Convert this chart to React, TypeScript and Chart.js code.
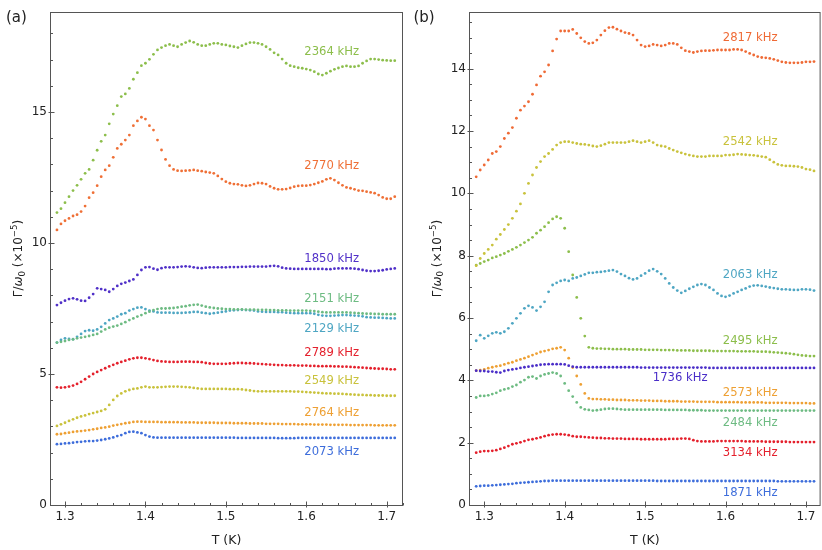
import React, { useEffect, useRef } from 'react';
import { Chart, registerables } from 'chart.js';

Chart.register(...registerables);

// Temperature grid (K)
const T = [
  1.29, 1.295, 1.3, 1.305, 1.31, 1.315, 1.32, 1.325, 1.33, 1.335,
  1.34, 1.345, 1.35, 1.355, 1.36, 1.365, 1.37, 1.375, 1.38, 1.385,
  1.39, 1.395, 1.4, 1.405, 1.41, 1.415, 1.42, 1.425, 1.43, 1.435,
  1.44, 1.445, 1.45, 1.455, 1.46, 1.465, 1.47, 1.475, 1.48, 1.485,
  1.49, 1.495, 1.5, 1.505, 1.51, 1.515, 1.52, 1.525, 1.53, 1.535,
  1.54, 1.545, 1.55, 1.555, 1.56, 1.565, 1.57, 1.575, 1.58, 1.585,
  1.59, 1.595, 1.6, 1.605, 1.61, 1.615, 1.62, 1.625, 1.63, 1.635,
  1.64, 1.645, 1.65, 1.655, 1.66, 1.665, 1.67, 1.675, 1.68, 1.685,
  1.69, 1.695, 1.7, 1.705, 1.71,
];

const X_TICKS = [1.3, 1.4, 1.5, 1.6, 1.7];
const A_Y_TICKS = [0, 5, 10, 15];
const B_Y_TICKS = [0, 2, 4, 6, 8, 10, 12, 14];

// ---------- Panel (a) ----------
const A_2364 = [
  11.16, 11.31, 11.54, 11.77, 12.0, 12.2, 12.43, 12.66, 12.81, 13.16,
  13.54, 13.88, 14.12, 14.55, 14.92, 15.24, 15.59, 15.69, 15.9, 16.25,
  16.5, 16.77, 16.86, 17.01, 17.2, 17.37, 17.46, 17.53, 17.58, 17.53,
  17.49, 17.58, 17.65, 17.71, 17.66, 17.58, 17.53, 17.53, 17.58, 17.62,
  17.62, 17.58, 17.56, 17.52, 17.49, 17.46, 17.53, 17.6, 17.65, 17.65,
  17.62, 17.58, 17.49, 17.39, 17.26, 17.18, 17.02, 16.86, 16.77, 16.73,
  16.69, 16.67, 16.64, 16.6, 16.54, 16.45, 16.41, 16.48, 16.56, 16.63,
  16.68, 16.73, 16.76, 16.73, 16.73, 16.76, 16.86, 16.95, 17.02, 17.02,
  17.0, 16.98, 16.97, 16.96, 16.96,
];
const A_2770 = [
  10.5, 10.73, 10.85, 10.94, 11.03, 11.08, 11.2, 11.41, 11.73, 11.92,
  12.19, 12.53, 12.79, 12.95, 13.27, 13.61, 13.77, 13.93, 14.12, 14.48,
  14.66, 14.8, 14.73, 14.48, 14.31, 13.93, 13.55, 13.19, 12.95, 12.81,
  12.76, 12.75, 12.76, 12.77, 12.79, 12.76, 12.74, 12.71, 12.69, 12.66,
  12.56, 12.44, 12.34, 12.28, 12.25, 12.24, 12.2, 12.18, 12.2, 12.25,
  12.29, 12.28, 12.25, 12.16, 12.09, 12.05, 12.05, 12.06, 12.1, 12.15,
  12.18, 12.19, 12.19, 12.21, 12.25, 12.3, 12.35, 12.43, 12.47, 12.4,
  12.3, 12.2, 12.12, 12.09, 12.05, 12.0, 11.99, 11.96, 11.93, 11.9,
  11.83, 11.74, 11.69, 11.69, 11.77,
];
const A_1850 = [
  7.63, 7.72, 7.8, 7.86, 7.89, 7.85, 7.8, 7.79, 7.91, 8.05,
  8.27, 8.24, 8.21, 8.14, 8.24, 8.36, 8.44, 8.49, 8.55, 8.61,
  8.78, 8.97, 9.07, 9.08, 9.02, 8.98, 9.04, 9.07, 9.07, 9.07,
  9.08, 9.1, 9.11, 9.1, 9.07, 9.05, 9.04, 9.06, 9.07, 9.07,
  9.07, 9.07, 9.07, 9.08, 9.08, 9.08, 9.09, 9.09, 9.1, 9.1,
  9.1, 9.1, 9.1, 9.12, 9.13, 9.11, 9.06, 9.03, 9.02, 9.01,
  9.01, 9.01, 9.01, 9.01, 9.01, 9.01, 9.01, 9.0, 9.0, 9.02,
  9.03, 9.03, 9.03, 9.03, 9.02, 9.0, 8.97, 8.94, 8.93, 8.93,
  8.94, 8.96, 8.99, 9.01, 9.03,
];
const A_2151 = [
  6.2, 6.23, 6.26, 6.3, 6.32, 6.36, 6.39, 6.42, 6.45, 6.49,
  6.53, 6.62, 6.7, 6.77, 6.81, 6.85, 6.91, 6.98, 7.06, 7.12,
  7.19, 7.25, 7.32, 7.38, 7.44, 7.48, 7.5, 7.5, 7.51, 7.52,
  7.54, 7.57, 7.59, 7.62, 7.64, 7.65, 7.61, 7.57, 7.54, 7.52,
  7.5, 7.49, 7.48, 7.48, 7.47, 7.47, 7.47, 7.46, 7.46, 7.46,
  7.45, 7.45, 7.45, 7.44, 7.44, 7.43, 7.43, 7.43, 7.42, 7.42,
  7.42, 7.42, 7.42, 7.41, 7.4, 7.38, 7.36, 7.35, 7.35, 7.35,
  7.35, 7.35, 7.35, 7.34, 7.33, 7.32, 7.31, 7.3, 7.3, 7.29,
  7.29, 7.28, 7.28, 7.28, 7.28,
];
const A_2129 = [
  6.2, 6.3, 6.36, 6.34, 6.33, 6.42, 6.53, 6.64, 6.67, 6.65,
  6.7, 6.8, 6.93, 7.06, 7.12, 7.19, 7.28, 7.32, 7.42, 7.48,
  7.53, 7.54, 7.48, 7.42, 7.39, 7.35, 7.34, 7.34, 7.34, 7.33,
  7.33, 7.33, 7.34, 7.35, 7.37, 7.37, 7.34, 7.32, 7.3, 7.32,
  7.34, 7.37, 7.39, 7.42, 7.43, 7.44, 7.45, 7.44, 7.43, 7.42,
  7.39, 7.38, 7.37, 7.37, 7.37, 7.36, 7.36, 7.34, 7.33, 7.32,
  7.32, 7.32, 7.32, 7.32, 7.3, 7.26, 7.23, 7.22, 7.22, 7.23,
  7.24, 7.25, 7.25, 7.24, 7.23, 7.22, 7.2, 7.17, 7.16, 7.15,
  7.15, 7.14, 7.13, 7.12, 7.12,
];
const A_2789 = [
  4.49, 4.48, 4.49, 4.52, 4.56, 4.62, 4.7, 4.8, 4.9, 5.0,
  5.08, 5.15, 5.22, 5.29, 5.35, 5.41, 5.46, 5.51, 5.56, 5.6,
  5.62, 5.62, 5.6, 5.57, 5.53, 5.5, 5.48, 5.47, 5.46, 5.46,
  5.46, 5.47, 5.47, 5.47, 5.46, 5.46, 5.45, 5.42, 5.4, 5.39,
  5.39, 5.39, 5.39, 5.4, 5.41, 5.42, 5.42, 5.41, 5.41, 5.4,
  5.39, 5.38, 5.37, 5.36, 5.35, 5.34, 5.34, 5.33, 5.33, 5.33,
  5.32, 5.32, 5.32, 5.31, 5.31, 5.3, 5.3, 5.3, 5.3, 5.29,
  5.29, 5.28, 5.28, 5.27, 5.26, 5.25, 5.24, 5.23, 5.22, 5.21,
  5.2, 5.2, 5.19, 5.18, 5.18,
];
const A_2549 = [
  3.02, 3.08, 3.14, 3.21, 3.27, 3.33, 3.38, 3.42, 3.47, 3.51,
  3.55, 3.59, 3.65, 3.82, 4.01, 4.16, 4.26, 4.34, 4.39, 4.43,
  4.45, 4.49, 4.52, 4.49, 4.49, 4.49, 4.5, 4.51, 4.52, 4.52,
  4.52, 4.51, 4.5, 4.49, 4.47, 4.45, 4.43, 4.43, 4.43, 4.43,
  4.43, 4.43, 4.43, 4.42, 4.42, 4.42, 4.41, 4.39, 4.37, 4.35,
  4.34, 4.34, 4.34, 4.34, 4.34, 4.34, 4.34, 4.34, 4.34, 4.33,
  4.33, 4.32, 4.31, 4.3, 4.29, 4.28, 4.27, 4.26, 4.26, 4.25,
  4.25, 4.24, 4.23, 4.22, 4.21, 4.2, 4.2, 4.19, 4.19, 4.18,
  4.18, 4.18, 4.17, 4.17, 4.17,
];
const A_2764 = [
  2.7, 2.71, 2.74, 2.76, 2.79, 2.81, 2.82, 2.84, 2.86, 2.89,
  2.91, 2.94, 2.96, 2.99, 3.03, 3.06, 3.09, 3.12, 3.14, 3.17,
  3.18, 3.18, 3.17, 3.17, 3.17, 3.17, 3.16, 3.16, 3.16, 3.16,
  3.16, 3.15, 3.15, 3.15, 3.15, 3.14, 3.14, 3.14, 3.14, 3.14,
  3.13, 3.13, 3.13, 3.13, 3.12, 3.12, 3.12, 3.12, 3.11, 3.11,
  3.11, 3.11, 3.1, 3.1, 3.1, 3.1, 3.09, 3.09, 3.09, 3.09,
  3.08, 3.08, 3.08, 3.08, 3.07, 3.07, 3.07, 3.07, 3.06, 3.06,
  3.06, 3.06, 3.06, 3.05, 3.05, 3.05, 3.05, 3.05, 3.05, 3.04,
  3.04, 3.04, 3.04, 3.04, 3.04,
];
const A_2073 = [
  2.32, 2.33, 2.35, 2.36, 2.38, 2.4, 2.41, 2.43, 2.44, 2.44,
  2.46, 2.48, 2.51, 2.54, 2.58, 2.63, 2.67, 2.74, 2.79, 2.8,
  2.77, 2.74, 2.67, 2.61, 2.58, 2.57, 2.57, 2.57, 2.57, 2.57,
  2.57, 2.57, 2.57, 2.57, 2.57, 2.57, 2.57, 2.57, 2.57, 2.57,
  2.57, 2.57, 2.57, 2.57, 2.57, 2.56, 2.56, 2.56, 2.56, 2.56,
  2.56, 2.56, 2.56, 2.56, 2.56, 2.55, 2.55, 2.55, 2.55, 2.55,
  2.56, 2.56, 2.56, 2.56, 2.56, 2.56, 2.56, 2.56, 2.56, 2.56,
  2.56, 2.56, 2.56, 2.56, 2.56, 2.56, 2.56, 2.56, 2.56, 2.56,
  2.56, 2.56, 2.56, 2.56, 2.56,
];

// ---------- Panel (b) ----------
const B_2817 = [
  10.53, 10.75, 10.91, 11.07, 11.28, 11.34, 11.5, 11.76, 11.93, 12.11,
  12.41, 12.67, 12.8, 12.94, 13.18, 13.48, 13.76, 13.9, 14.12, 14.57,
  14.95, 15.21, 15.21, 15.21, 15.26, 15.13, 14.99, 14.87, 14.81, 14.83,
  14.92, 15.08, 15.22, 15.32, 15.33, 15.27, 15.21, 15.16, 15.13, 15.08,
  14.92, 14.76, 14.71, 14.73, 14.78, 14.76, 14.73, 14.76, 14.81, 14.81,
  14.78, 14.67, 14.58, 14.55, 14.52, 14.55, 14.57, 14.58, 14.58, 14.59,
  14.6, 14.6, 14.6, 14.6, 14.62, 14.62, 14.6, 14.55, 14.49, 14.44,
  14.39, 14.36, 14.35, 14.33, 14.3, 14.26, 14.22, 14.2, 14.19, 14.19,
  14.19, 14.2, 14.22, 14.22, 14.23,
];
const B_2542 = [
  7.68, 7.91, 8.07, 8.2, 8.34, 8.53, 8.68, 8.84, 9.0, 9.2,
  9.43, 9.66, 10.0, 10.32, 10.59, 10.83, 11.02, 11.18, 11.28, 11.41,
  11.55, 11.63, 11.66, 11.66, 11.63, 11.6, 11.58, 11.57, 11.55, 11.52,
  11.5, 11.53, 11.58, 11.63, 11.63, 11.63, 11.63, 11.63, 11.66, 11.69,
  11.66, 11.63, 11.66, 11.69, 11.63, 11.55, 11.52, 11.5, 11.44, 11.39,
  11.34, 11.3, 11.26, 11.23, 11.2, 11.18, 11.18, 11.18, 11.2, 11.2,
  11.2, 11.2, 11.23, 11.23, 11.24, 11.26, 11.25, 11.24, 11.23, 11.22,
  11.2, 11.18, 11.16, 11.08, 11.0, 10.93, 10.9, 10.88, 10.88, 10.87,
  10.86, 10.83, 10.78, 10.76, 10.72,
];
const B_2063 = [
  5.27, 5.45, 5.35, 5.43, 5.51, 5.54, 5.51, 5.56, 5.67, 5.83,
  5.99, 6.15, 6.31, 6.39, 6.34, 6.24, 6.36, 6.52, 6.84, 7.06,
  7.13, 7.19, 7.22, 7.19, 7.27, 7.3, 7.35, 7.4, 7.45, 7.45,
  7.47, 7.48, 7.5, 7.52, 7.54, 7.49, 7.41, 7.35, 7.28, 7.24,
  7.27, 7.36, 7.43, 7.52, 7.57, 7.5, 7.41, 7.27, 7.11, 6.98,
  6.88, 6.81, 6.87, 6.94, 7.0, 7.06, 7.09, 7.06, 6.98, 6.9,
  6.79, 6.71, 6.68, 6.72, 6.79, 6.84, 6.9, 6.95, 7.01, 7.04,
  7.05, 7.03, 7.01, 6.98, 6.96, 6.94, 6.92, 6.92, 6.91, 6.9,
  6.9, 6.92, 6.92, 6.91, 6.88,
];
const B_2495 = [
  7.7, 7.75, 7.81, 7.86, 7.93, 7.97, 8.02, 8.07, 8.14, 8.2,
  8.27, 8.34, 8.42, 8.5, 8.59, 8.72, 8.82, 8.93, 9.06, 9.18,
  9.25, 9.2, 8.88, 8.13, 7.38, 6.66, 5.99, 5.42, 5.06, 5.03,
  5.02, 5.02, 5.01, 5.01, 5.0, 5.0, 5.0, 5.0, 4.99, 4.99,
  4.99, 4.99, 4.98, 4.98, 4.98, 4.98, 4.97, 4.97, 4.97, 4.97,
  4.96, 4.96, 4.96, 4.96, 4.95, 4.95, 4.95, 4.95, 4.95, 4.94,
  4.94, 4.94, 4.94, 4.94, 4.94, 4.93, 4.93, 4.93, 4.93, 4.93,
  4.92, 4.92, 4.92, 4.91, 4.9, 4.89, 4.88, 4.87, 4.86, 4.84,
  4.82, 4.8, 4.79, 4.78, 4.78,
];
const B_1736 = [
  4.31, 4.3, 4.3, 4.28, 4.28, 4.26, 4.25, 4.3, 4.33, 4.35,
  4.37, 4.4, 4.42, 4.44, 4.46, 4.48, 4.5, 4.51, 4.52, 4.52,
  4.52, 4.52, 4.51, 4.47, 4.44, 4.42, 4.42, 4.42, 4.42, 4.42,
  4.42, 4.42, 4.42, 4.42, 4.42, 4.42, 4.42, 4.42, 4.42, 4.42,
  4.42, 4.41, 4.41, 4.41, 4.41, 4.41, 4.41, 4.41, 4.41, 4.41,
  4.41, 4.41, 4.41, 4.41, 4.41, 4.41, 4.41, 4.41, 4.4, 4.4,
  4.4, 4.4, 4.4, 4.4, 4.4, 4.4, 4.4, 4.4, 4.4, 4.4,
  4.4, 4.4, 4.4, 4.4, 4.4, 4.4, 4.4, 4.4, 4.4, 4.4,
  4.4, 4.4, 4.4, 4.4, 4.4,
];
const B_2573 = [
  4.31, 4.33, 4.35, 4.39, 4.42, 4.45, 4.47, 4.51, 4.55, 4.58,
  4.63, 4.67, 4.71, 4.76, 4.81, 4.86, 4.91, 4.94, 4.97, 5.01,
  5.03, 5.06, 4.97, 4.71, 4.41, 4.14, 3.87, 3.58, 3.42, 3.4,
  3.4, 3.39, 3.39, 3.38, 3.38, 3.37, 3.37, 3.37, 3.36, 3.36,
  3.36, 3.35, 3.35, 3.35, 3.34, 3.34, 3.34, 3.33, 3.33, 3.33,
  3.33, 3.32, 3.32, 3.32, 3.32, 3.31, 3.31, 3.31, 3.31, 3.31,
  3.3, 3.3, 3.3, 3.3, 3.3, 3.3, 3.29, 3.29, 3.29, 3.29,
  3.29, 3.29, 3.28, 3.28, 3.28, 3.28, 3.28, 3.28, 3.27, 3.27,
  3.27, 3.27, 3.27, 3.26, 3.26,
];
const B_2484 = [
  3.45, 3.5, 3.5, 3.52, 3.56, 3.6, 3.67, 3.71, 3.74, 3.8,
  3.85, 3.94, 4.01, 4.1, 4.12, 4.06, 4.14, 4.19, 4.22, 4.25,
  4.22, 4.14, 3.9, 3.67, 3.48, 3.29, 3.13, 3.07, 3.05, 3.03,
  3.04, 3.06, 3.08, 3.09, 3.09, 3.08, 3.07, 3.06, 3.06, 3.06,
  3.06, 3.06, 3.06, 3.06, 3.06, 3.06, 3.06, 3.05, 3.05, 3.05,
  3.05, 3.05, 3.05, 3.04, 3.04, 3.04, 3.04, 3.03, 3.03, 3.03,
  3.03, 3.03, 3.03, 3.03, 3.03, 3.03, 3.03, 3.03, 3.03, 3.03,
  3.03, 3.03, 3.03, 3.03, 3.03, 3.03, 3.03, 3.03, 3.03, 3.03,
  3.03, 3.03, 3.03, 3.03, 3.03,
];
const B_3134 = [
  1.68, 1.71, 1.73, 1.73, 1.74, 1.76, 1.8, 1.84, 1.89, 1.95,
  1.98, 2.01, 2.05, 2.09, 2.11, 2.14, 2.17, 2.21, 2.24, 2.26,
  2.27, 2.27, 2.26, 2.24, 2.21, 2.19, 2.19, 2.18, 2.17, 2.16,
  2.15, 2.15, 2.14, 2.14, 2.13, 2.13, 2.13, 2.12, 2.12, 2.12,
  2.12, 2.11, 2.11, 2.11, 2.11, 2.11, 2.11, 2.11, 2.12, 2.12,
  2.12, 2.13, 2.13, 2.12, 2.08, 2.05, 2.04, 2.04, 2.04, 2.04,
  2.05, 2.05, 2.05, 2.05, 2.05, 2.05, 2.05, 2.04, 2.04, 2.04,
  2.04, 2.04, 2.03, 2.03, 2.03, 2.03, 2.03, 2.03, 2.02, 2.02,
  2.02, 2.02, 2.02, 2.02, 2.02,
];
const B_1871 = [
  0.6, 0.61, 0.62, 0.62, 0.63, 0.64, 0.65, 0.66, 0.67, 0.68,
  0.7, 0.71, 0.72, 0.73, 0.74, 0.75, 0.76, 0.77, 0.77, 0.78,
  0.78, 0.78, 0.78, 0.78, 0.78, 0.78, 0.78, 0.78, 0.78, 0.78,
  0.78, 0.78, 0.78, 0.78, 0.78, 0.78, 0.78, 0.78, 0.78, 0.78,
  0.78, 0.78, 0.78, 0.78, 0.78, 0.77, 0.77, 0.77, 0.77, 0.77,
  0.77, 0.77, 0.77, 0.77, 0.77, 0.77, 0.77, 0.77, 0.77, 0.77,
  0.77, 0.77, 0.77, 0.77, 0.77, 0.77, 0.77, 0.77, 0.77, 0.77,
  0.77, 0.77, 0.77, 0.77, 0.77, 0.76, 0.76, 0.76, 0.76, 0.76,
  0.76, 0.76, 0.76, 0.76, 0.76,
];

type Series = { name: string; values: number[]; color: string; lx: number; ly: number };

const SERIES_A: Series[] = [
  { name: '2364 kHz', values: A_2364, color: '#8cbe4b', lx: 1.6316, ly: 17.29 },
  { name: '2770 kHz', values: A_2770, color: '#ef6f35', lx: 1.6316, ly: 12.95 },
  { name: '1850 kHz', values: A_1850, color: '#5030c8', lx: 1.6316, ly: 9.38 },
  { name: '2151 kHz', values: A_2151, color: '#6dbb82', lx: 1.6316, ly: 7.86 },
  { name: '2129 kHz', values: A_2129, color: '#4ea6c3', lx: 1.6316, ly: 6.7 },
  { name: '2789 kHz', values: A_2789, color: '#e4202c', lx: 1.6316, ly: 5.79 },
  { name: '2549 kHz', values: A_2549, color: '#c9c23c', lx: 1.6316, ly: 4.75 },
  { name: '2764 kHz', values: A_2764, color: '#eea033', lx: 1.6316, ly: 3.52 },
  { name: '2073 kHz', values: A_2073, color: '#3d6ddb', lx: 1.6316, ly: 2.01 },
];

const SERIES_B: Series[] = [
  { name: '2817 kHz', values: B_2817, color: '#ef6a35', lx: 1.6307, ly: 15.0 },
  { name: '2542 kHz', values: B_2542, color: '#c9c23c', lx: 1.6307, ly: 11.66 },
  { name: '2063 kHz', values: B_2063, color: '#4ea6c3', lx: 1.6307, ly: 7.38 },
  { name: '2495 kHz', values: B_2495, color: '#8cbe4b', lx: 1.6307, ly: 5.26 },
  { name: '1736 kHz', values: B_1736, color: '#4a2ec8', lx: 1.5436, ly: 4.07 },
  { name: '2573 kHz', values: B_2573, color: '#eea033', lx: 1.6307, ly: 3.58 },
  { name: '2484 kHz', values: B_2484, color: '#6dbb82', lx: 1.6307, ly: 2.64 },
  { name: '3134 kHz', values: B_3134, color: '#e4202c', lx: 1.6307, ly: 1.68 },
  { name: '1871 kHz', values: B_1871, color: '#3d6ddb', lx: 1.6307, ly: 0.37 },
];

const FONT = "'DejaVu Sans', Verdana, sans-serif";
const FRAME = '#555';
const TEXT = '#222';

type PanelCfg = {
  series: Series[];
  tag: string;
  tagX: number;
  xMin: number;
  xMax: number;
  yMax: number;
  yTicks: number[];
  yMinor: number;
  axisLeft: number;
  padRight: number;
  titleX: number;
};

const PANEL_A: PanelCfg = {
  series: SERIES_A, tag: '(a)', tagX: 6, xMin: 1.28135, xMax: 1.72027,
  yMax: 18.817, yTicks: A_Y_TICKS, yMinor: 1, axisLeft: 50, padRight: 7, titleX: 18,
};
const PANEL_B: PanelCfg = {
  series: SERIES_B, tag: '(b)', tagX: 3.5, xMin: 1.28105, xMax: 1.7182,
  yMax: 15.82, yTicks: B_Y_TICKS, yMinor: 0.5, axisLeft: 59, padRight: 0, titleX: 26.5,
};

function drawYTitle(ctx: CanvasRenderingContext2D, cx: number, cy: number) {
  const fs = 12;
  const sm = fs * 0.72;
  const parts = [
    { t: 'Γ/', f: `${fs}px ${FONT}`, dy: 0 },
    { t: 'ω', f: `italic ${fs}px ${FONT}`, dy: 0 },
    { t: '0', f: `${sm}px ${FONT}`, dy: fs * 0.22 },
    { t: ' (×10', f: `${fs}px ${FONT}`, dy: 0 },
    { t: '−5', f: `${sm}px ${FONT}`, dy: -fs * 0.42 },
    { t: ')', f: `${fs}px ${FONT}`, dy: 0 },
  ];
  ctx.save();
  ctx.translate(cx, cy);
  ctx.rotate(-Math.PI / 2);
  ctx.fillStyle = TEXT;
  ctx.textBaseline = 'alphabetic';
  ctx.textAlign = 'left';
  let total = 0;
  const widths = parts.map((p) => {
    ctx.font = p.f;
    const w = ctx.measureText(p.t).width;
    total += w;
    return w;
  });
  let x = -total / 2;
  const base = fs * 0.36;
  parts.forEach((p, i) => {
    ctx.font = p.f;
    ctx.fillText(p.t, x, base + p.dy);
    x += widths[i];
  });
  ctx.restore();
}

function buildChart(canvas: HTMLCanvasElement, p: PanelCfg) {
  const datasets = p.series.map((s) => ({
    label: s.name,
    data: T.map((t, i) => ({ x: t, y: s.values[i] })),
    showLine: false,
    pointRadius: 1.4,
    pointHoverRadius: 1.4,
    pointBorderWidth: 0,
    pointBackgroundColor: s.color,
    borderColor: s.color,
    backgroundColor: s.color,
  }));

  const decor = {
    id: 'decor',
    afterDraw(chart: any) {
      const ctx: CanvasRenderingContext2D = chart.ctx;
      const a = chart.chartArea;
      const xs = chart.scales.x;
      const ys = chart.scales.y;
      ctx.save();
      // frame
      ctx.strokeStyle = FRAME;
      ctx.lineWidth = 1;
      ctx.strokeRect(a.left + 0.5, a.top + 0.5, a.right - a.left - 1, a.bottom - a.top);
      // tick marks
      ctx.beginPath();
      const x0 = a.left + 0.5;
      const y0 = a.bottom + 0.5;
      const isMajor = (arr: number[], v: number) => arr.some((t) => Math.abs(t - v) < 1e-6);
      p.yTicks.forEach((v) => {
        if (v === 0) return;
        const py = Math.round(ys.getPixelForValue(v)) + 0.5;
        ctx.moveTo(x0 - 2, py);
        ctx.lineTo(x0 + 4, py);
      });
      for (let k = 1; k * p.yMinor < p.yMax; k++) {
        const v = k * p.yMinor;
        if (isMajor(p.yTicks, v)) continue;
        const py = Math.round(ys.getPixelForValue(v)) + 0.5;
        ctx.moveTo(x0, py);
        ctx.lineTo(x0 + 2.5, py);
      }
      X_TICKS.forEach((v) => {
        const px = Math.round(xs.getPixelForValue(v)) + 0.5;
        ctx.moveTo(px, y0 + 2);
        ctx.lineTo(px, y0 - 4);
      });
      for (let k = Math.ceil(p.xMin / 0.02 - 1e-9); k * 0.02 <= p.xMax; k++) {
        const v = k * 0.02;
        if (isMajor(X_TICKS, v)) continue;
        const px = Math.round(xs.getPixelForValue(v)) + 0.5;
        ctx.moveTo(px, y0);
        ctx.lineTo(px, y0 - 2.5);
      }
      ctx.stroke();

      // series labels
      ctx.font = `11.6px ${FONT}`;
      ctx.textAlign = 'center';
      ctx.textBaseline = 'middle';
      p.series.forEach((s) => {
        ctx.fillStyle = s.color;
        ctx.fillText(s.name, xs.getPixelForValue(s.lx), ys.getPixelForValue(s.ly));
      });

      // panel tag
      ctx.fillStyle = TEXT;
      ctx.font = `15px ${FONT}`;
      ctx.textAlign = 'left';
      ctx.textBaseline = 'alphabetic';
      ctx.fillText(p.tag, p.tagX, 22);

      // x title
      ctx.font = `12.5px ${FONT}`;
      ctx.textAlign = 'center';
      ctx.textBaseline = 'middle';
      ctx.fillText('T (K)', (a.left + a.right) / 2, 540.5);
      ctx.restore();

      // y title
      drawYTitle(ctx, p.titleX, (a.top + a.bottom) / 2);
    },
  };

  return new Chart(canvas, {
    type: 'scatter',
    data: { datasets },
    options: {
      responsive: false,
      animation: false,
      events: [],
      layout: { padding: { top: 12, right: p.padRight, left: 0, bottom: 0 } },
      plugins: { legend: { display: false }, tooltip: { enabled: false } },
      scales: {
        x: {
          type: 'linear',
          min: p.xMin,
          max: p.xMax,
          grid: { display: false, drawTicks: false },
          border: { display: false },
          afterBuildTicks: (s: any) => {
            s.ticks = X_TICKS.map((v) => ({ value: v }));
          },
          afterFit: (s: any) => {
            s.height = 45;
          },
          ticks: {
            padding: 5,
            autoSkip: false,
            maxRotation: 0,
            color: TEXT,
            font: { family: FONT, size: 12 },
            callback: (v: any) => Number(v).toFixed(1),
          },
        },
        y: {
          type: 'linear',
          min: 0,
          max: p.yMax,
          grid: { display: false, drawTicks: false },
          border: { display: false },
          afterBuildTicks: (s: any) => {
            s.ticks = p.yTicks.map((v) => ({ value: v }));
          },
          afterFit: (s: any) => {
            s.width = p.axisLeft;
          },
          ticks: {
            padding: 3,
            autoSkip: false,
            color: TEXT,
            font: { family: FONT, size: 12 },
            callback: (v: any) => String(v),
          },
        },
      },
    },
    plugins: [decor],
  } as any);
}

function Panel({ cfg, left, width }: { cfg: PanelCfg; left: number; width: number }) {
  const ref = useRef<HTMLCanvasElement | null>(null);
  useEffect(() => {
    if (!ref.current) return;
    const chart = buildChart(ref.current, cfg);
    return () => chart.destroy();
  }, [cfg]);
  return (
    <canvas
      ref={ref}
      width={width}
      height={550}
      style={{ position: 'absolute', left, top: 0, width, height: 550 }}
    />
  );
}

export default function App() {
  return (
    <div
      style={{
        position: 'absolute',
        left: 0,
        top: 0,
        width: 822,
        height: 550,
        background: '#ffffff',
        overflow: 'hidden',
      }}
    >
      <Panel cfg={PANEL_A} left={0} width={410} />
      <Panel cfg={PANEL_B} left={410} width={412} />
    </div>
  );
}
